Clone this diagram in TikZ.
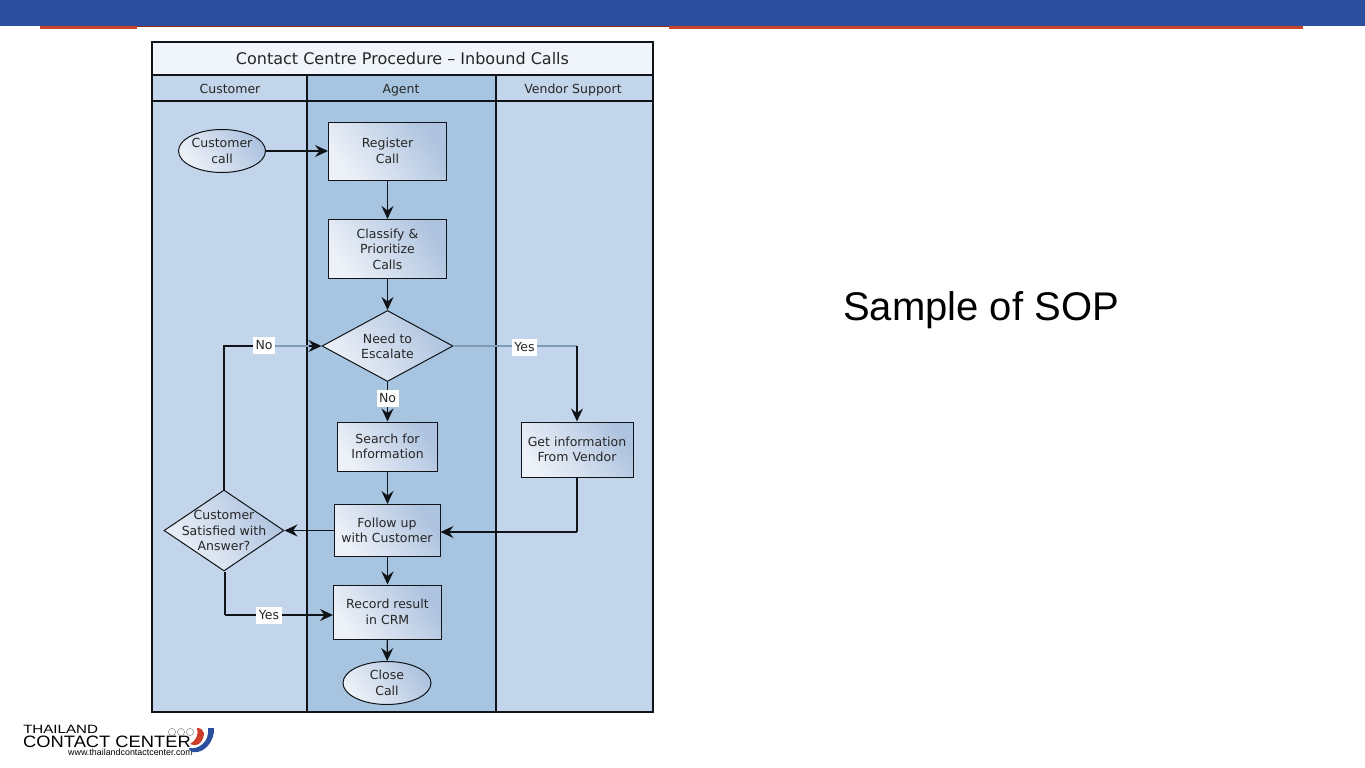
\documentclass[tikz,border=0pt]{standalone}
\usepackage{fontspec}
\setmainfont{DejaVu Sans}
\newfontfamily\slidefont{Liberation Sans}
\newfontfamily\logofont{Liberation Sans}
\usetikzlibrary{shapes.geometric,arrows.meta}
\definecolor{barblue}{HTML}{2B4F9E}
\definecolor{barred}{HTML}{C8432B}
\definecolor{lanelight}{HTML}{C3D5EB}
\definecolor{lanedark}{HTML}{A7C5E0}
\definecolor{titlefill}{HTML}{F0F5FB}
\definecolor{inkline}{HTML}{101418}
\definecolor{fadeline}{HTML}{7F9AB5}
\definecolor{gradstart}{HTML}{EDF1F8}
\definecolor{gradend}{HTML}{AEC3DF}
\tikzset{
  x=1pt,y=-1pt,
  lane/.style={draw=inkline,line width=1.05pt},
  lanetext/.style={font=\fontsize{12.5}{14}\selectfont,text=black!85,inner sep=0pt,align=center,anchor=base},
  flowfill/.style={draw=inkline,line width=1pt,left color=gradstart,right color=gradend,shading angle=125,
    font=\fontsize{12.5}{15.4}\selectfont,text=black!85,align=center,inner sep=0pt,anchor=center},
  procbox/.style={flowfill,rectangle},
  decide/.style={flowfill,diamond,aspect=1.6},
  term/.style={flowfill,ellipse},
  decidetext/.style={font=\fontsize{12.5}{15.6}\selectfont,text=black!85,align=center,inner sep=0pt,anchor=center},
  tag/.style={fill=white,font=\fontsize{12.5}{14}\selectfont,text=black!85,inner xsep=2.5pt,inner ysep=1.5pt,minimum height=17pt},
  flow/.style={draw=inkline,line width=1.1pt,-{Stealth[length=13pt,width=12pt,inset=4.5pt]}},
  flowplain/.style={draw=inkline,line width=1.1pt},
  flowfade/.style={draw=fadeline,line width=1.1pt},
}
\begin{document}
\begin{tikzpicture}
\useasboundingbox (0,0) rectangle (1365,768);
% slide bar
\fill[barred] (40,24) rectangle (137,29);
\fill[barred] (669,24) rectangle (1303,29);
\fill[barred!70!black] (137,25) rectangle (669,27);
\fill[barblue] (0,0) rectangle (1365,26);
% swimlanes
\fill[titlefill] (152,42) rectangle (653,75);
\fill[lanelight] (152,75) rectangle (307,712);
\fill[lanedark] (307,75) rectangle (496,712);
\fill[lanelight] (496,75) rectangle (653,712);
\draw[lane] (152,42) rectangle (653,712);
\draw[lane] (152,75) -- (653,75);
\draw[lane] (152,101) -- (653,101);
\draw[lane] (307,75) -- (307,712);
\draw[lane] (496,75) -- (496,712);
\node[lanetext,font=\fontsize{16}{18}\selectfont] (title) at (402.5,64.5) {Contact Centre Procedure – Inbound Calls};
\node[lanetext] (lanecustomer) at (230,93) {Customer};
\node[lanetext] (laneagent) at (401,93) {Agent};
\node[lanetext] (lanevendor) at (573,93) {Vendor Support};
% nodes
\node[term,minimum width=87pt,minimum height=43pt] (custcall) at (222,151) {Customer\\call};
\node[procbox,minimum width=118pt,minimum height=58pt] (register) at (387.5,151) {Register\\Call};
\node[procbox,minimum width=118pt,minimum height=59pt] (classify) at (387.5,249) {Classify \&\\Prioritize\\Calls};
\node[decide,minimum width=131pt,minimum height=71pt] (escalate) at (387.5,346) {};
\node[decidetext] (escalatetext) at (387.5,346.5) {Need to\\Escalate};
\node[procbox,minimum width=100pt,minimum height=49pt] (search) at (387.5,446.5) {Search for\\Information};
\node[procbox,minimum width=112pt,minimum height=55pt] (vendor) at (577,449.5) {Get information\\From Vendor};
\node[procbox,minimum width=106pt,minimum height=52pt] (follow) at (387,530.5) {Follow up\\with Customer};
\node[decide,minimum width=120pt,minimum height=81pt] (satisfied) at (224,530.5) {};
\node[decidetext] (satisfiedtext) at (224,530.5) {Customer\\Satisfied with\\Answer?};
\node[procbox,minimum width=108pt,minimum height=54pt] (record) at (387.5,612) {Record result\\in CRM};
\node[term,minimum width=88pt,minimum height=43pt] (close) at (387,683) {Close\\Call};
% connectors
\coordinate (vendorcorner) at (577,346);
\coordinate (followin) at (577,532);
\coordinate (nocorner) at (224,346);
\coordinate (nofade) at (309,346);
\coordinate (yescorner) at (225,615);
\draw[flow] (custcall.east) -- (register.west);
\draw[flow] (register) -- (classify);
\draw[flow] (classify) -- (escalate);
\draw[flow] (escalate) -- (search);
\draw[flow] (search.south -| record) -- (follow.north -| record);
\draw[flow] (follow.south -| record) -- (record);
\draw[flow] (record) -- (close);
\draw[flow] (follow.west) -- (satisfied.east);
\draw[flowplain] (vendor.south -| followin) -- (followin);
\draw[flow] (followin) -- (follow.east |- followin);
\draw[flowfade] (escalate.east) -- (vendorcorner);
\draw[flow] (vendorcorner) -- (vendor.north -| vendorcorner);
\draw[flowplain] (satisfied.north) -- (nocorner) -- (nofade |- nocorner);
\draw[flowfade] (264,346) -- (nofade);
\draw[flow] (nofade) -- (escalate.west);
\draw[flowplain] (satisfied.south -| yescorner) -- (yescorner);
\draw[flow] (yescorner) -- (record.west |- yescorner);
% labels
\node[tag] (tagyes1) at (524.5,347) {Yes};
\node[tag] (tagno1) at (264,345) {No};
\node[tag] (tagno2) at (387.5,398) {No};
\node[tag] (tagyes2) at (269,615) {Yes};
% caption
\node[font=\fontsize{40}{46}\selectfont\slidefont,text=black,inner sep=0pt,anchor=center] (caption) at (981,310) {Sample of SOP};
% logo
\node[font=\fontsize{12}{13}\selectfont\logofont,inner sep=0pt,anchor=west,xscale=1.26] (logoa) at (23,729) {THAILAND};
\node[font=\fontsize{16.5}{17}\selectfont\logofont,inner sep=0pt,anchor=west,xscale=1.11] (logob) at (23,742) {CONTACT CENTER};
\node[font=\fontsize{8.9}{9}\selectfont\logofont,inner sep=0pt,anchor=west] (logoc) at (68,752.5) {www.thailandcontactcenter.com};
\foreach \cx in {172,181,190}{\draw[black!45,line width=0.5pt] (\cx,732) circle[radius=3.6];}
\fill[barred!90!red] (197,728) .. controls (205,728) and (206,736) .. (200,743) .. controls (197,746) and (193,745) .. (190,744) .. controls (196,741) and (199,734) .. (197,728) -- cycle;
\fill[barblue] (208,728) -- (214,728) .. controls (215,741) and (204,754) .. (193,752) .. controls (190,751) and (188,749) .. (189,748) .. controls (198,750) and (210,742) .. (208,728) -- cycle;
\end{tikzpicture}
\end{document}
